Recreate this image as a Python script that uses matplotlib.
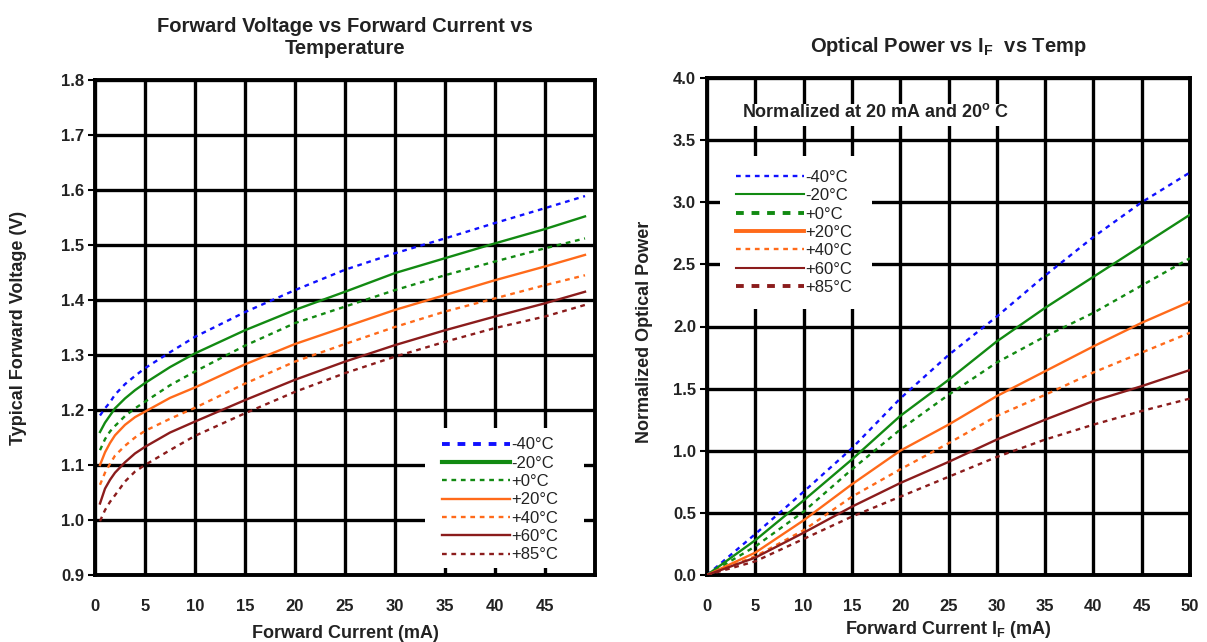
import matplotlib
matplotlib.use("Agg")
import matplotlib.pyplot as plt
from matplotlib.lines import Line2D
from matplotlib.patches import Rectangle

plt.rcParams['font.family'] = ['Liberation Sans', 'DejaVu Sans']
plt.rcParams['mathtext.fontset'] = 'custom'
plt.rcParams['mathtext.rm'] = 'Liberation Sans'
plt.rcParams['mathtext.bf'] = 'Liberation Sans:bold'

# ---------------- data ----------------
temps = ['-40°C', '-20°C', '+0°C', '+20°C', '+40°C', '+60°C', '+85°C']
colors = ['#1010ff', '#128a12', '#128a12', '#ff6a1a', '#ff6a1a', '#8b1c1c', '#8b1c1c']
styles = ['dot', 'solid', 'dot', 'solid', 'dot', 'solid', 'dot']

# Left: forward voltage (V) vs forward current (mA)
i_left = [0.5, 1, 1.5, 2, 3, 4, 5, 7.5, 10, 15, 20, 25, 30, 35, 40, 45, 49]
vf_m40 = [1.190, 1.203, 1.214, 1.228, 1.247, 1.262, 1.276, 1.305, 1.333, 1.378, 1.418, 1.455, 1.485, 1.512, 1.540, 1.567, 1.589]
vf_m20 = [1.160, 1.177, 1.190, 1.203, 1.221, 1.236, 1.249, 1.278, 1.303, 1.345, 1.382, 1.415, 1.449, 1.476, 1.503, 1.529, 1.552]
vf_p0 = [1.127, 1.147, 1.161, 1.171, 1.189, 1.203, 1.215, 1.245, 1.270, 1.317, 1.358, 1.388, 1.418, 1.445, 1.470, 1.494, 1.512]
vf_p20 = [1.100, 1.123, 1.140, 1.154, 1.173, 1.187, 1.197, 1.222, 1.241, 1.283, 1.320, 1.351, 1.382, 1.409, 1.436, 1.461, 1.482]
vf_p40 = [1.064, 1.086, 1.102, 1.117, 1.135, 1.150, 1.162, 1.184, 1.204, 1.248, 1.288, 1.320, 1.351, 1.379, 1.403, 1.427, 1.445]
vf_p60 = [1.030, 1.057, 1.073, 1.086, 1.105, 1.121, 1.133, 1.159, 1.179, 1.218, 1.255, 1.288, 1.318, 1.345, 1.370, 1.394, 1.415]
vf_p85 = [0.998, 1.018, 1.033, 1.045, 1.070, 1.088, 1.100, 1.127, 1.153, 1.194, 1.233, 1.267, 1.297, 1.324, 1.349, 1.370, 1.391]
vf_all = [vf_m40, vf_m20, vf_p0, vf_p20, vf_p40, vf_p60, vf_p85]

# Right: normalized optical power vs forward current (mA)
i_right = [0, 5, 10, 15, 20, 25, 30, 35, 40, 45, 50]
po_m40 = [0, 0.33, 0.67, 1.02, 1.42, 1.77, 2.08, 2.41, 2.72, 3.00, 3.24]
po_m20 = [0, 0.28, 0.60, 0.93, 1.28, 1.57, 1.88, 2.15, 2.40, 2.65, 2.90]
po_p0 = [0, 0.23, 0.51, 0.85, 1.17, 1.45, 1.71, 1.92, 2.11, 2.33, 2.55]
po_p20 = [0, 0.18, 0.44, 0.73, 1.00, 1.21, 1.44, 1.64, 1.84, 2.03, 2.20]
po_p40 = [0, 0.15, 0.36, 0.63, 0.85, 1.06, 1.28, 1.45, 1.63, 1.79, 1.95]
po_p60 = [0, 0.14, 0.34, 0.55, 0.74, 0.91, 1.09, 1.25, 1.40, 1.52, 1.65]
po_p85 = [0, 0.11, 0.29, 0.47, 0.63, 0.79, 0.95, 1.09, 1.21, 1.32, 1.42]
po_all = [po_m40, po_m20, po_p0, po_p20, po_p40, po_p60, po_p85]

left_xticks = [0, 5, 10, 15, 20, 25, 30, 35, 40, 45]
left_yticks = [0.9, 1.0, 1.1, 1.2, 1.3, 1.4, 1.5, 1.6, 1.7, 1.8]
right_xticks = [0, 5, 10, 15, 20, 25, 30, 35, 40, 45, 50]
right_yticks = [0.0, 0.5, 1.0, 1.5, 2.0, 2.5, 3.0, 3.5, 4.0]

# legend handle widths (legend-specific emphasis as in reference)
leg_lw_left = [2.8, 3.0, 1.7, 1.7, 1.7, 1.7, 1.7]
leg_lw_right = [1.7, 1.5, 2.8, 2.8, 1.7, 1.5, 2.8]

DASH = (0, (2.0, 2.0))


def ls(s):
    return '-' if s == 'solid' else DASH


fig = plt.figure(figsize=(12.07, 6.42), dpi=100)
ax1 = fig.add_axes([95/1207, 1-575/642, 500/1207, 495/642])
ax2 = fig.add_axes([707/1207, 1-575/642, 483/1207, 497/642])

for ax in (ax1, ax2):
    ax.set_axisbelow(True)
    ax.grid(True, color='black', linewidth=2.4)
    for sp in ax.spines.values():
        sp.set_linewidth(2.8)
        sp.set_color('black')
    ax.tick_params(axis='x', length=0, pad=17, labelsize=12)
    ax.tick_params(axis='y', length=5, width=1.5, pad=3, labelsize=12)

# ---- left plot ----
for v, c, s in zip(vf_all, colors, styles):
    ax1.plot(i_left, v, color=c, linestyle=ls(s), linewidth=1.7, zorder=3)
ax1.set_xlim(0, 50)
ax1.set_ylim(0.9, 1.8)
ax1.set_xticks(left_xticks)
ax1.set_yticks(left_yticks)
ax1.set_xticklabels([str(t) for t in left_xticks], fontweight='bold', color='#222222')
ax1.set_yticklabels([f'{t:.1f}' for t in left_yticks], fontweight='bold', color='#222222')
ax1.set_title('Forward Voltage vs Forward Current vs\nTemperature', fontsize=14.5,
              fontweight='bold', pad=19, color='#222222', linespacing=1.15)
ax1.set_xlabel('Forward Current (mA)', fontsize=13, fontweight='bold', labelpad=8, color='#222222')
ax1.set_ylabel('Typical Forward Voltage (V)', fontsize=13, fontweight='bold', color='#222222')
ax1.yaxis.set_label_coords(-0.135, 0.5)

# blank area behind the legend (grid interrupted there in the reference)
ax1.add_patch(Rectangle((33.0, 0.913), 15.9, 0.254, facecolor='white', edgecolor='none', zorder=1))
h1 = [Line2D([], [], color=c, linestyle=ls(s), linewidth=w) for c, s, w in zip(colors, styles, leg_lw_left)]
leg1 = ax1.legend(h1, temps, loc='upper left', bbox_to_anchor=(0.694, 0.278),
                  frameon=False, fontsize=12, handlelength=4.1, handletextpad=0.05,
                  labelspacing=0.2, borderpad=0, borderaxespad=0)
for t in leg1.get_texts():
    t.set_color('#222222')

# ---- right plot ----
for p, c, s in zip(po_all, colors, styles):
    ax2.plot(i_right, p, color=c, linestyle=ls(s), linewidth=1.7, zorder=3)
ax2.set_xlim(0, 50)
ax2.set_ylim(0, 4.0)
ax2.set_xticks(right_xticks)
ax2.set_yticks(right_yticks)
ax2.set_xticklabels([str(t) for t in right_xticks], fontweight='bold', color='#222222')
ax2.set_yticklabels([f'{t:.1f}' for t in right_yticks], fontweight='bold', color='#222222')
ax2.set_title(r'Optical Power vs I$_\mathbf{F}$  vs Temp', fontsize=14.5,
              fontweight='bold', pad=19, color='#222222')
ax2.set_xlabel(r'Forward Current I$_\mathbf{F}$ (mA)', fontsize=13, fontweight='bold', labelpad=4, color='#222222')
ax2.set_ylabel('Normalized Optical Power', fontsize=13, fontweight='bold', color='#222222')
ax2.yaxis.set_label_coords(-0.112, 0.49)

ax2.add_patch(Rectangle((2.6, 3.61), 29.4, 0.18, facecolor='white', edgecolor='none', zorder=1))
ax2.text(17.4, 3.73, r'Normalized at 20 mA and 20$^{\mathbf{o}}$ C', ha='center', va='center',
         fontsize=13, fontweight='bold', color='#222222', zorder=5)

ax2.add_patch(Rectangle((1.35, 2.14), 15.75, 1.23, facecolor='white', edgecolor='none', zorder=1))
h2 = [Line2D([], [], color=c, linestyle=ls(s), linewidth=w) for c, s, w in zip(colors, styles, leg_lw_right)]
leg2 = ax2.legend(h2, temps, loc='upper left', bbox_to_anchor=(0.060, 0.815),
                  frameon=False, fontsize=12, handlelength=4.1, handletextpad=0.05,
                  labelspacing=0.2, borderpad=0, borderaxespad=0)
for t in leg2.get_texts():
    t.set_color('#222222')

fig.savefig('out.png', dpi=100, facecolor='white')
